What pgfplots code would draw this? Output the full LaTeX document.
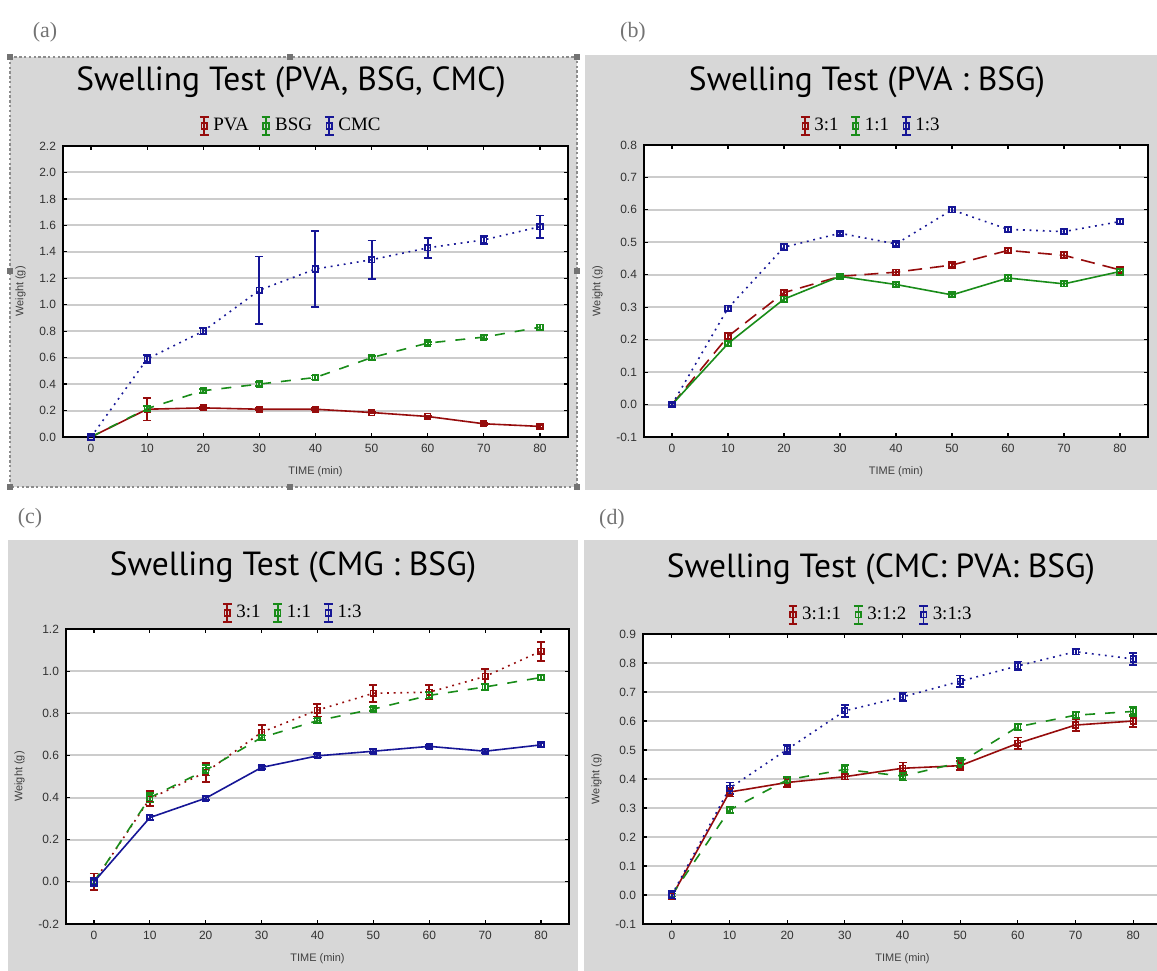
\documentclass[border=0pt]{standalone}
\usepackage{fontspec}
\setmainfont{Liberation Sans}
\newfontfamily\titlefont{PT Sans}
\newfontfamily\legfont{Liberation Serif}
\usepackage{pgfplots}
\pgfplotsset{compat=1.18}

\definecolor{pred}{RGB}{150,12,12}
\definecolor{pgreen}{RGB}{25,140,25}
\definecolor{pblue}{RGB}{22,22,150}
\definecolor{panel}{RGB}{215,215,215}

\pgfplotsset{
  swell/.style={
    scale only axis,
    anchor=south west,
    axis background/.style={fill=white},
    xmin=-5, xmax=85, xtick={0,10,...,80},
    ymajorgrids,
    major grid style={draw=black!20, line width=1bp},
    axis line style={line width=0.9bp},
    tick align=inside, major tick length=2bp,
    tick style={line width=0.6bp, black},
    tick label style={font=\fontsize{6}{7}\selectfont, text=black!80},
    /pgf/number format/assume math mode=true,
    yticklabel style={/pgf/number format/.cd, fixed, fixed zerofill, precision=1},
    xlabel={TIME (min)}, ylabel={Weight (g)},
    label style={font=\fontsize{5.5}{6}\selectfont, text=black!75},
    legend columns=3,
    legend style={draw=none, fill=none, anchor=center,
      font=\legfont\fontsize{9.5}{10}\selectfont,
      /tikz/every even column/.append style={column sep=4bp}},
    legend image code/.code={
      \draw[#1, solid] (0bp,-4.5bp) -- (0bp,4.5bp)
        (-2.2bp,-4.5bp) -- (2.2bp,-4.5bp) (-2.2bp,4.5bp) -- (2.2bp,4.5bp);
      \draw[#1] plot coordinates {(0bp,0bp)};
    },
    error bars/y dir=both, error bars/y explicit,
  },
  sr/.style={pred, line width=0.8bp, mark=square, mark size=1.4bp, mark options={solid, fill=white},
    error bars/error bar style={solid, line width=1bp, pred},
    error bars/error mark options={solid, rotate=90, mark size=2bp, line width=0.9bp, pred}},
  sg/.style={pgreen, line width=0.8bp, mark=square, mark size=1.4bp, mark options={solid, fill=white},
    error bars/error bar style={solid, line width=1bp, pgreen},
    error bars/error mark options={solid, rotate=90, mark size=2bp, line width=0.9bp, pgreen}},
  sb/.style={pblue, line width=0.8bp, mark=square, mark size=1.4bp, mark options={solid, fill=white},
    error bars/error bar style={solid, line width=1bp, pblue},
    error bars/error mark options={solid, rotate=90, mark size=2bp, line width=0.9bp, pblue}},
  lsolid/.style={solid},
  ldash/.style={dash pattern=on 5bp off 5bp},
  ldot/.style={dash pattern=on 0.9bp off 2.4bp},
}

\begin{document}
\begin{tikzpicture}
\useasboundingbox (0,0) rectangle (578.5bp,485.5bp);

% decorations in reference pixel coordinates
\begin{scope}[x=0.5bp, y=-0.5bp, shift={(0bp,485.5bp)}]
\fill[panel] (10,57) rectangle (577,487);
\fill[panel] (585,55) rectangle (1157,490);
\fill[panel] (8,540) rectangle (578,971);
\fill[panel] (584,540) rectangle (1157,971);
\draw[black!45, line width=0.6bp, dash pattern=on 1.2bp off 1.2bp] (10,57) rectangle (577,487);
\foreach \hx/\hy in {10/57,290/57,577/57,10/271,577/271,10/487,290/487,577/487}
  \fill[black!55] (\hx-3,\hy-3) rectangle ++(6,6);

\begin{scope}[every node/.style={font=\legfont\fontsize{11}{12}\selectfont, text=black!55}]
\node at (45,32) {(a)};
\node at (633,32) {(b)};
\node at (30,518) {(c)};
\node at (612,519) {(d)};
\end{scope}

\begin{scope}[every node/.style={font=\titlefont\fontsize{16.8}{18}\selectfont}]
\node at (291,82) {Swelling Test (PVA, BSG, CMC)};
\node at (867,82) {Swelling Test (PVA : BSG)};
\node at (293,567) {Swelling Test (CMG : BSG)};
\node at (881,569) {Swelling Test (CMC: PVA: BSG)};
\end{scope}
\end{scope}

% (a)
\begin{axis}[swell, at={(31.5bp,267bp)}, width=252.5bp, height=145.5bp,
  ymin=0, ymax=2.2, ytick={0,0.2,...,2.2},
  legend style={at={(0.453,1.069)}}]
\addplot[sr, lsolid] coordinates {(0,0) +- (0,0.005) (10,0.21) +- (0,0.085) (20,0.22) +- (0,0.01)
  (30,0.21) +- (0,0.01) (40,0.21) +- (0,0.01) (50,0.185) +- (0,0.008) (60,0.155) +- (0,0.006)
  (70,0.10) +- (0,0.01) (80,0.08) +- (0,0.008)};
\addplot[sg, ldash] coordinates {(0,0) +- (0,0.005) (10,0.215) +- (0,0.02) (20,0.35) +- (0,0.015)
  (30,0.40) +- (0,0.015) (40,0.45) +- (0,0.015) (50,0.60) +- (0,0.015) (60,0.71) +- (0,0.01)
  (70,0.755) +- (0,0.015) (80,0.83) +- (0,0.02)};
\addplot[sb, ldot] coordinates {(0,0) +- (0,0.01) (10,0.59) +- (0,0.03) (20,0.80) +- (0,0.025)
  (30,1.11) +- (0,0.255) (40,1.27) +- (0,0.285) (50,1.34) +- (0,0.145) (60,1.43) +- (0,0.075)
  (70,1.49) +- (0,0.03) (80,1.59) +- (0,0.085)};
\legend{PVA,BSG,CMC}
\end{axis}

% (b)
\begin{axis}[swell, at={(322bp,267bp)}, width=252bp, height=146bp,
  ymin=-0.1, ymax=0.8, ytick={-0.1,0,0.1,0.2,0.3,0.4,0.5,0.6,0.7,0.8},
  legend style={at={(0.452,1.065)}}]
\addplot[sr, dash pattern=on 7bp off 4bp] coordinates {(0,0) +- (0,0.005) (10,0.21) +- (0,0.01) (20,0.345) +- (0,0.008)
  (30,0.395) +- (0,0.005) (40,0.408) +- (0,0.008) (50,0.43) +- (0,0.005) (60,0.475) +- (0,0.008)
  (70,0.46) +- (0,0.01) (80,0.415) +- (0,0.006)};
\addplot[sg, lsolid] coordinates {(0,0) +- (0,0.005) (10,0.188) +- (0,0.008) (20,0.325) +- (0,0.008)
  (30,0.395) +- (0,0.005) (40,0.37) +- (0,0.006) (50,0.338) +- (0,0.005) (60,0.39) +- (0,0.01)
  (70,0.372) +- (0,0.008) (80,0.41) +- (0,0.01)};
\addplot[sb, ldot] coordinates {(0,0) +- (0,0.005) (10,0.297) +- (0,0.008) (20,0.485) +- (0,0.01)
  (30,0.528) +- (0,0.005) (40,0.495) +- (0,0.006) (50,0.60) +- (0,0.008) (60,0.54) +- (0,0.008)
  (70,0.533) +- (0,0.008) (80,0.564) +- (0,0.008)};
\legend{3:1,1:1,1:3}
\end{axis}

% (c)
\begin{axis}[swell, at={(33bp,23.5bp)}, width=251.5bp, height=147.5bp,
  ymin=-0.2, ymax=1.2, ytick={-0.2,0,0.2,0.4,0.6,0.8,1.0,1.2},
  legend style={at={(0.453,1.054)}}]
\addplot[sr, ldot] coordinates {(0,0) +- (0,0.04) (10,0.395) +- (0,0.035) (20,0.52) +- (0,0.045)
  (30,0.71) +- (0,0.035) (40,0.815) +- (0,0.03) (50,0.895) +- (0,0.04) (60,0.90) +- (0,0.035)
  (70,0.975) +- (0,0.035) (80,1.095) +- (0,0.045)};
\addplot[sg, ldash] coordinates {(0,0) +- (0,0.01) (10,0.40) +- (0,0.02) (20,0.53) +- (0,0.025)
  (30,0.685) +- (0,0.01) (40,0.765) +- (0,0.01) (50,0.82) +- (0,0.01) (60,0.885) +- (0,0.015)
  (70,0.925) +- (0,0.015) (80,0.97) +- (0,0.01)};
\addplot[sb, lsolid] coordinates {(0,0) +- (0,0.02) (10,0.305) +- (0,0.01) (20,0.397) +- (0,0.01)
  (30,0.543) +- (0,0.006) (40,0.598) +- (0,0.008) (50,0.62) +- (0,0.01) (60,0.643) +- (0,0.006)
  (70,0.62) +- (0,0.008) (80,0.65) +- (0,0.01)};
\legend{3:1,1:1,1:3}
\end{axis}

% (d)
\begin{axis}[swell, at={(321.5bp,23.5bp)}, width=259.5bp, height=145bp,
  ymin=-0.1, ymax=0.9, ytick={-0.1,0,0.1,0.2,0.3,0.4,0.5,0.6,0.7,0.8,0.9},
  legend style={at={(0.46,1.066)}}]
\addplot[sr, lsolid] coordinates {(0,-0.005) +- (0,0.01) (10,0.355) +- (0,0.015) (20,0.388) +- (0,0.015)
  (30,0.408) +- (0,0.01) (40,0.437) +- (0,0.02) (50,0.446) +- (0,0.015) (60,0.523) +- (0,0.02)
  (70,0.586) +- (0,0.02) (80,0.60) +- (0,0.02)};
\addplot[sg, ldash] coordinates {(0,0) +- (0,0.005) (10,0.293) +- (0,0.01) (20,0.397) +- (0,0.01)
  (30,0.433) +- (0,0.015) (40,0.41) +- (0,0.015) (50,0.457) +- (0,0.015) (60,0.58) +- (0,0.01)
  (70,0.62) +- (0,0.01) (80,0.633) +- (0,0.015)};
\addplot[sb, ldot] coordinates {(0,0) +- (0,0.015) (10,0.368) +- (0,0.02) (20,0.502) +- (0,0.015)
  (30,0.635) +- (0,0.02) (40,0.683) +- (0,0.015) (50,0.737) +- (0,0.02) (60,0.79) +- (0,0.015)
  (70,0.839) +- (0,0.01) (80,0.814) +- (0,0.02)};
\legend{3:1:1,3:1:2,3:1:3}
\end{axis}
\end{tikzpicture}
\end{document}
